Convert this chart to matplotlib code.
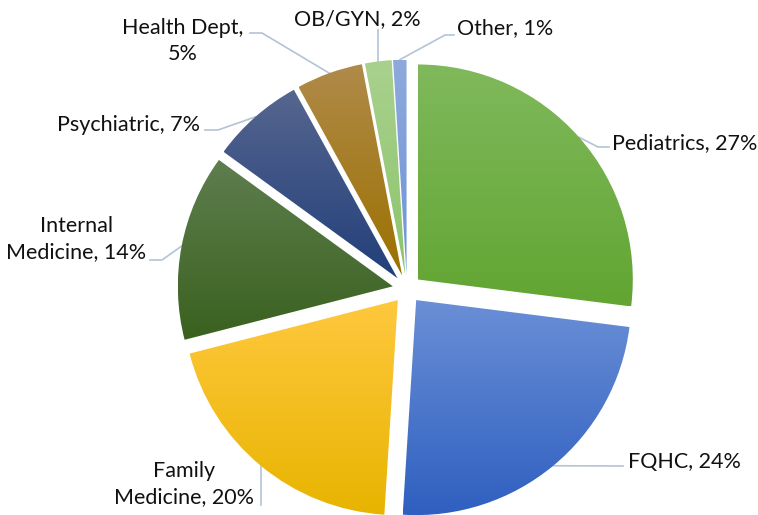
import numpy as np
import matplotlib
matplotlib.use("Agg")
import matplotlib.pyplot as plt
from matplotlib.colors import to_rgb

# data
labels = ["Pediatrics", "FQHC", "Family\nMedicine", "Internal\nMedicine",
          "Psychiatric", "Health Dept,\n", "OB/GYN", "Other"]
shares = [27, 24, 20, 14, 7, 5, 2, 1]
top_colors = ["#80b95c", "#6a8fd6", "#ffc83e", "#5e7e4e",
              "#56668f", "#b08a4a", "#a9d18e", "#8eaadc"]
bot_colors = ["#62a532", "#2f5fc0", "#e8b400", "#3a611f",
              "#223f7a", "#9c7100", "#8cc46c", "#6d93d8"]

W, H = 758, 515
plt.rcParams['font.family'] = ['Lato', 'DejaVu Sans']

fig = plt.figure(figsize=(W / 100, H / 100), dpi=100)
ax = fig.add_axes([0, 0, 1, 1])

R = 215
cx, cy = 407, H - 289   # pie centre in pixels (y up)
gap = 14.4              # explode distance in pixels (matplotlib uses data units)

wedges, _ = ax.pie(shares, radius=R, center=(cx, cy), startangle=90,
                   counterclock=False, explode=[gap] * len(shares),
                   wedgeprops=dict(linewidth=0), frame=True)

# vertical gradient on every slice
for w, c0, c1 in zip(wedges, top_colors, bot_colors):
    bb = w.get_path().get_extents()
    t = np.linspace(0, 1, 256)[:, None]
    grad = (1 - t) * np.array(to_rgb(c0)) + t * np.array(to_rgb(c1))
    grad = np.repeat(grad[:, None, :], 2, axis=1)
    im = ax.imshow(grad, extent=(bb.x0, bb.x1, bb.y0, bb.y1), aspect='auto',
                   interpolation='bilinear', zorder=2)
    im.set_clip_path(w)
    w.set_facecolor('none')

# label layout: text position (top-origin px), alignment, leader points
# (None as x means "straight down/up from the slice anchor")
layout = [
    ((612, 143), 'left',   [(598, 147), (609, 147)]),
    ((628, 462), 'left',   [(623, 466)]),
    ((184, 484), 'center', [(None, 505)]),
    ((76, 239),  'center', [(162, 260), (150, 260)]),
    ((200, 125), 'right',  [(218, 130), (205, 130)]),
    ((183, 41),  'center', [(262, 33), (250, 33)]),
    ((357, 19),  'center', [(None, 30)]),
    ((457, 28),  'left',   [(445, 35), (454, 35)]),
]

line_col = "#b4c3d6"
for w, lab, val, (pos, ha, pts) in zip(wedges, labels, shares, layout):
    mid = np.deg2rad((w.theta1 + w.theta2) / 2)
    ax0 = w.center[0] + R * np.cos(mid)
    ay0 = w.center[1] + R * np.sin(mid)
    xs = [ax0] + [ax0 if p[0] is None else p[0] for p in pts]
    ys = [ay0] + [H - p[1] for p in pts]
    ax.plot(xs, ys, color=line_col, lw=1.2, zorder=1)
    if lab.endswith("\n"):
        txt = f"{lab}{val}%"
    else:
        txt = f"{lab}, {val}%"
    ax.text(pos[0], H - pos[1], txt, ha=ha, va='center', fontsize=15.5,
            color='#111111', multialignment='center', linespacing=1.4)

ax.set_xlim(0, W)
ax.set_ylim(0, H)
ax.set_aspect('auto')
ax.axis('off')

fig.savefig("out.png", dpi=100)
